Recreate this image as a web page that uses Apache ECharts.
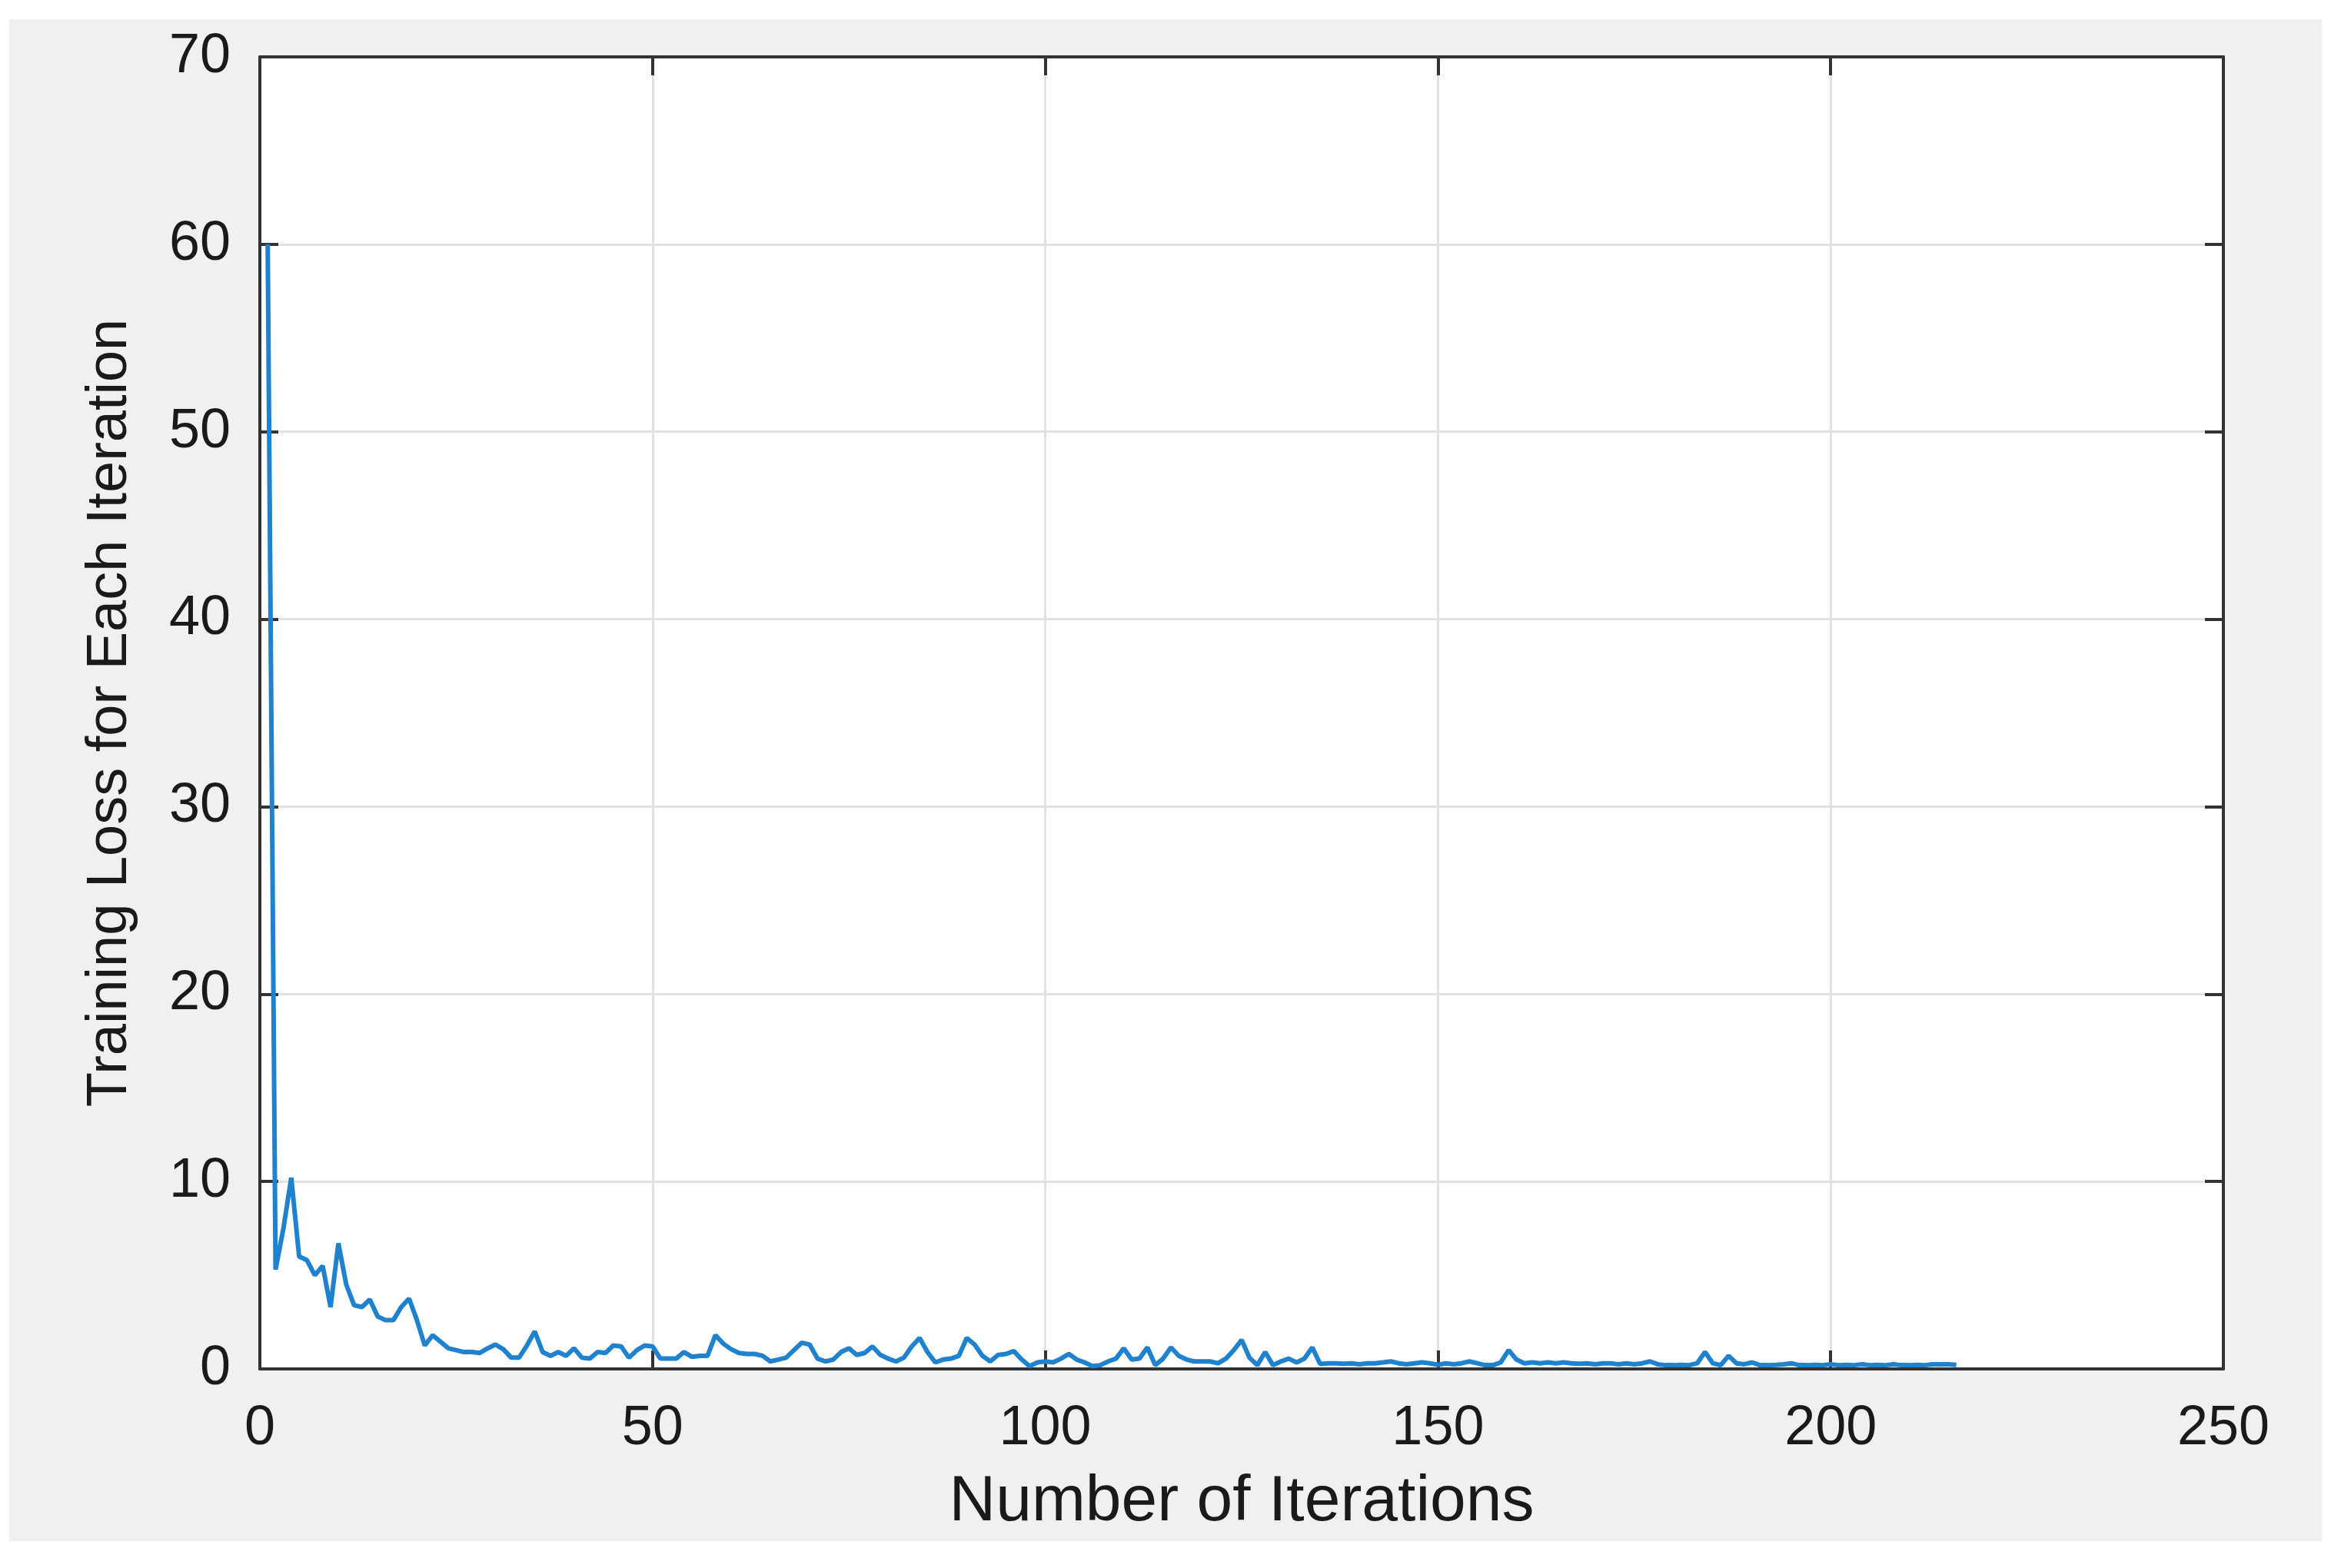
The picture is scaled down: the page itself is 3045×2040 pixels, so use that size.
<!DOCTYPE html>
<html>
<head>
<meta charset="utf-8">
<script src="https://cdn.jsdelivr.net/npm/echarts@6/dist/echarts.min.js"></script>
<style>
  html, body { margin: 0; padding: 0; background: #ffffff; }
  #panel { position: absolute; left: 12px; top: 25px; width: 3008px; height: 1980px; background: #f0f0f0; }
  #chart { position: absolute; left: 0; top: 0; width: 3045px; height: 2040px; }
</style>
</head>
<body>
<div id="panel"></div>
<div id="chart"></div>
<script>
// Training loss per iteration (iterations 1..216)
const lossValues = [
  60, 5.3, 7.5, 10.2, 6.0, 5.8, 5.0, 5.5, 3.3, 6.7,
  4.5, 3.4, 3.3, 3.7, 2.8, 2.6, 2.6, 3.3, 3.75, 2.6,
  1.25, 1.8, 1.45, 1.1, 1.0, 0.9, 0.9, 0.85, 1.1, 1.3,
  1.05, 0.6, 0.6, 1.25, 2.0, 0.9, 0.7, 0.9, 0.7, 1.1,
  0.6, 0.55, 0.9, 0.85, 1.25, 1.2, 0.6, 1.0, 1.25, 1.2,
  0.55, 0.55, 0.55, 0.9, 0.65, 0.7, 0.7, 1.8, 1.35, 1.05,
  0.85, 0.8, 0.8, 0.7, 0.4, 0.5, 0.6, 1.0, 1.4, 1.3,
  0.55, 0.4, 0.5, 0.9, 1.1, 0.75, 0.85, 1.2, 0.75, 0.55,
  0.4, 0.6, 1.2, 1.65, 0.9, 0.35, 0.5, 0.55, 0.7, 1.65,
  1.3, 0.7, 0.4, 0.75, 0.8, 0.95, 0.5, 0.15, 0.35, 0.4,
  0.35, 0.55, 0.8, 0.5, 0.35, 0.15, 0.2, 0.4, 0.55, 1.1,
  0.5, 0.55, 1.15, 0.2, 0.55, 1.15, 0.7, 0.5, 0.4, 0.4,
  0.4, 0.3, 0.55, 1.0, 1.55, 0.6, 0.2, 0.9, 0.2, 0.4,
  0.55, 0.35, 0.55, 1.15, 0.27, 0.3, 0.3, 0.28, 0.3, 0.25,
  0.3, 0.3, 0.35, 0.4, 0.3, 0.25, 0.3, 0.35, 0.3, 0.22,
  0.3, 0.25, 0.3, 0.4, 0.3, 0.2, 0.2, 0.35, 1.0, 0.5,
  0.3, 0.35, 0.3, 0.35, 0.3, 0.35, 0.3, 0.28, 0.3, 0.25,
  0.3, 0.3, 0.25, 0.3, 0.25, 0.3, 0.4, 0.25, 0.2, 0.2,
  0.22, 0.2, 0.3, 0.9, 0.3, 0.2, 0.7, 0.3, 0.25, 0.35,
  0.2, 0.2, 0.22, 0.25, 0.3, 0.2, 0.2, 0.22, 0.2, 0.25,
  0.2, 0.22, 0.2, 0.25, 0.2, 0.22, 0.2, 0.25, 0.2, 0.2,
  0.22, 0.2, 0.25, 0.25, 0.25, 0.22
];
const firstIteration = 1;
const xTicks = [0, 50, 100, 150, 200, 250];
const yTicks = [0, 10, 20, 30, 40, 50, 60, 70];
const xTitle = 'Number of Iterations';
const yTitle = 'Training Loss for Each Iteration';

const seriesData = lossValues.map((v, i) => [firstIteration + i, v]);

const axisColor = '#333333';
const textColor = '#1a1a1a';
const fontFam = '"Liberation Sans", Arial, sans-serif';

const chart = echarts.init(document.getElementById('chart'), null, { renderer: 'canvas' });
chart.setOption({
  animation: false,
  backgroundColor: 'transparent',
  grid: {
    left: 338, top: 74, width: 2554, height: 1707,
    show: true, backgroundColor: '#ffffff', borderWidth: 0
  },
  xAxis: [
    {
      type: 'value', position: 'bottom',
      min: xTicks[0], max: xTicks[xTicks.length - 1], interval: xTicks[1] - xTicks[0],
      name: xTitle, nameLocation: 'middle', nameGap: 132,
      nameTextStyle: { fontFamily: fontFam, fontSize: 84, color: textColor },
      axisLine: { show: true, onZero: false, lineStyle: { color: axisColor, width: 4 } },
      axisTick: { show: true, inside: true, length: 24, lineStyle: { color: axisColor, width: 4 } },
      axisLabel: { show: true, margin: 42, fontFamily: fontFam, fontSize: 72, color: textColor },
      splitLine: { show: true, lineStyle: { color: '#e2e2e2', width: 3 } }
    },
    {
      type: 'value', position: 'top',
      min: xTicks[0], max: xTicks[xTicks.length - 1], interval: xTicks[1] - xTicks[0],
      axisLine: { show: true, onZero: false, lineStyle: { color: axisColor, width: 4 } },
      axisTick: { show: true, inside: true, length: 24, lineStyle: { color: axisColor, width: 4 } },
      axisLabel: { show: false },
      splitLine: { show: false }
    }
  ],
  yAxis: [
    {
      type: 'value', position: 'left',
      min: yTicks[0], max: yTicks[yTicks.length - 1], interval: yTicks[1] - yTicks[0],
      name: yTitle, nameLocation: 'middle', nameGap: 157, nameRotate: 90,
      nameTextStyle: { fontFamily: fontFam, fontSize: 74, color: textColor },
      axisLine: { show: true, onZero: false, lineStyle: { color: axisColor, width: 4 } },
      axisTick: { show: true, inside: true, length: 24, lineStyle: { color: axisColor, width: 4 } },
      axisLabel: { show: true, margin: 38, fontFamily: fontFam, fontSize: 72, color: textColor },
      splitLine: { show: true, lineStyle: { color: '#e2e2e2', width: 3 } }
    },
    {
      type: 'value', position: 'right',
      min: yTicks[0], max: yTicks[yTicks.length - 1], interval: yTicks[1] - yTicks[0],
      axisLine: { show: true, onZero: false, lineStyle: { color: axisColor, width: 4 } },
      axisTick: { show: true, inside: true, length: 24, lineStyle: { color: axisColor, width: 4 } },
      axisLabel: { show: false },
      splitLine: { show: false }
    }
  ],
  series: [
    {
      type: 'line',
      xAxisIndex: 0, yAxisIndex: 0,
      data: seriesData,
      showSymbol: false,
      symbol: 'none',
      lineStyle: { color: '#1f82cf', width: 6 },
      z: 3
    }
  ]
});
</script>
</body>
</html>
